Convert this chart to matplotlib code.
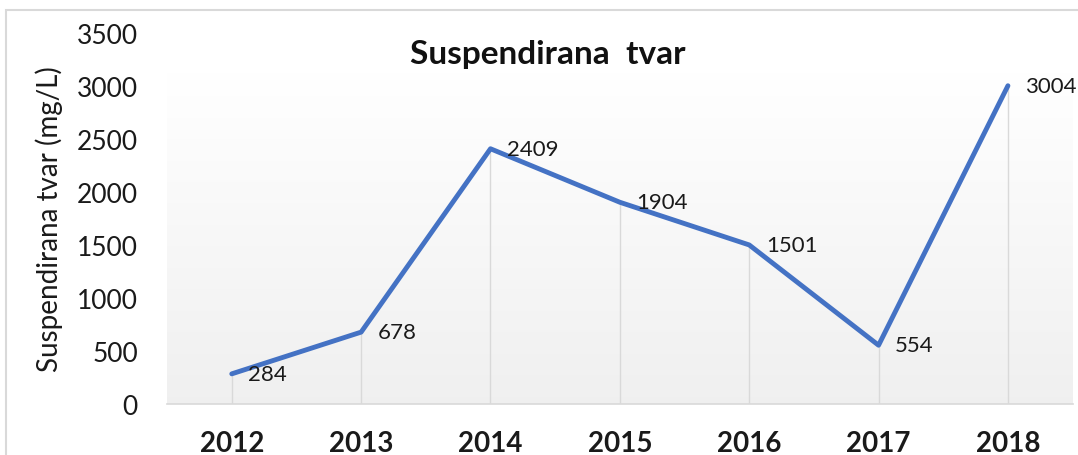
import matplotlib
matplotlib.use('Agg')

import matplotlib.pyplot as plt
import numpy as np
from matplotlib.patches import Rectangle

plt.rcParams['font.family'] = ['Lato', 'DejaVu Sans']

years = ['2012', '2013', '2014', '2015', '2016', '2017', '2018']
values = [284, 678, 2409, 1904, 1501, 554, 3004]
yticks = [0, 500, 1000, 1500, 2000, 2500, 3000, 3500]

fig = plt.figure(figsize=(10.78, 4.56), dpi=100)
ax = fig.add_axes([0.155, 0.112, 0.84, 0.813])

x = np.arange(len(years))

# plot area background: vertical gradient, white at the top, light grey at the bottom
n = 200
t = np.linspace(0, 1, n)  # 0 = bottom, 1 = top
shade = np.where(t > 0.89, 1.0, 0.94 + 0.06 * t / 0.89)
col = shade[::-1].reshape(n, 1)
grad = np.dstack([col, col, col])
ax.imshow(grad, extent=[0, 1, 0, 1], transform=ax.transAxes, aspect='auto', zorder=0)

ax.vlines(x, 0, values, colors='#d9d9d9', linewidth=1, zorder=1)
ax.plot(x, values, color='#4472C4', linewidth=3.5, solid_capstyle='round', zorder=3)

for xi, v in zip(x, values):
    ax.annotate(str(v), (xi, v), xytext=(12, 0), textcoords='offset points',
                ha='left', va='center', fontsize=16, color='#1a1a1a', zorder=4)

ax.set_xlim(-0.5, len(years) - 0.5)
ax.set_ylim(0, 3500)
ax.set_xticks(x)
ax.set_xticklabels(years, fontsize=20, fontweight='bold', color='#1a1a1a')
ax.set_yticks(yticks)
ax.set_yticklabels([str(v) for v in yticks], fontsize=19, color='#1a1a1a')
ax.tick_params(axis='x', length=0, pad=19)
ax.tick_params(axis='y', length=0, pad=21)

for s in ['top', 'right', 'left']:
    ax.spines[s].set_visible(False)
ax.spines['bottom'].set_color('#d9d9d9')
ax.spines['bottom'].set_linewidth(1.2)

ax.set_ylabel('Suspendirana tvar (mg/L)', fontsize=20, color='#1a1a1a', labelpad=10)
ax.text(0.42, 0.945, 'Suspendirana  tvar', transform=ax.transAxes, ha='center', va='center',
        fontsize=24, fontweight='bold', color='#111111')

fig.patches.append(Rectangle((6 / 1078, -0.1), 1.1, 1 - 11 / 456 + 0.1, transform=fig.transFigure,
                             fill=False, edgecolor='#d9d9d9', linewidth=1.5))

plt.savefig('out.png', dpi=100)
